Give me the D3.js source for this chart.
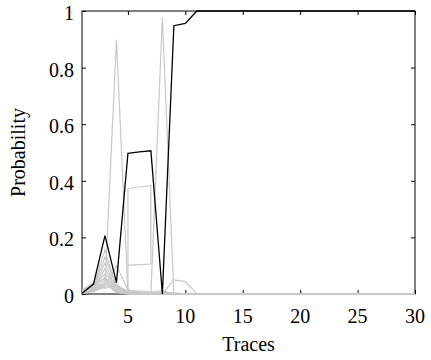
<!DOCTYPE html>
<html>
<head>
<meta charset="utf-8">
<script src="https://cdn.jsdelivr.net/npm/d3@7"></script>
<style>
  html, body { margin: 0; padding: 0; background: #fff; }
  svg { display: block; }
  svg text { font-family: "Liberation Serif", "DejaVu Serif", serif; font-size: 20px; fill: #000; }
</style>
</head>
<body>
<svg id="chart" width="431" height="360"></svg>
<script>
// ---- data ----
const traces = [1,2,3,4,5,6,7,8,9,10,11,12,13,14,15,16,17,18,19,20,21,22,23,24,25,26,27,28,29,30];
const xTicks = [5,10,15,20,25,30];
const yTicks = [0,0.2,0.4,0.6,0.8,1];

// correct key (black)
const correctKey = [0.003,0.035,0.206,0.04,0.497,0.502,0.506,0.0,0.948,0.956,1,1,1,1,1,1,1,1,1,1,1,1,1,1,1,1,1,1,1,1];

// other key candidates (grey)
const cand1  = [0.004,0.02,0.03,0.898,0,0,0,0,0,0,0,0,0,0,0,0,0,0,0,0,0,0,0,0,0,0,0,0,0,0];
const cand2  = [0.004,0.015,0.05,0.01,0.005,0.005,0,0.978,0,0,0,0,0,0,0,0,0,0,0,0,0,0,0,0,0,0,0,0,0,0];
const cand3  = [0.004,0.01,0.04,0.005,0,0,0,0,0.05,0.044,0,0,0,0,0,0,0,0,0,0,0,0,0,0,0,0,0,0,0,0];
const cand4  = [0.006,0.03,0.155,0.02,0,0,0,0,0,0,0,0,0,0,0,0,0,0,0,0,0,0,0,0,0,0,0,0,0,0];
const cand5  = [0.005,0.025,0.13,0.03,0.01,0,0,0,0,0,0,0,0,0,0,0,0,0,0,0,0,0,0,0,0,0,0,0,0,0];
const cand6  = [0.003,0.02,0.11,0.015,0,0,0,0,0,0,0,0,0,0,0,0,0,0,0,0,0,0,0,0,0,0,0,0,0,0];
const cand7  = [0.004,0.018,0.09,0.01,0,0,0,0,0,0,0,0,0,0,0,0,0,0,0,0,0,0,0,0,0,0,0,0,0,0];
const cand8  = [0.005,0.03,0.07,0.03,0.005,0,0,0,0,0,0,0,0,0,0,0,0,0,0,0,0,0,0,0,0,0,0,0,0,0];
const cand9  = [0.01,0.035,0.055,0.02,0,0,0,0,0,0,0,0,0,0,0,0,0,0,0,0,0,0,0,0,0,0,0,0,0,0];
const cand10 = [0.002,0.012,0.04,0.008,0,0,0,0,0,0,0,0,0,0,0,0,0,0,0,0,0,0,0,0,0,0,0,0,0,0];
const cand11 = [0.003,0.008,0.03,0.025,0.012,0.01,0.008,0.012,0,0,0,0,0,0,0,0,0,0,0,0,0,0,0,0,0,0,0,0,0,0];
const cand12 = [0.015,0.04,0.02,0.035,0,0,0,0,0,0,0,0,0,0,0,0,0,0,0,0,0,0,0,0,0,0,0,0,0,0];
const cand13 = [0.002,0.01,0.025,0.1,0.015,0.005,0.004,0.006,0.004,0,0,0,0,0,0,0,0,0,0,0,0,0,0,0,0,0,0,0,0,0];
// candidate drawn as a closed loop between traces 5 and 7
const loopTraces = [1,2,3,4,5,5,6,7,7,6,5];
const loopProbs  = [0.005,0.02,0.06,0.02,0.01,0.373,0.378,0.383,0.106,0.104,0.102];

const greySeries = [cand1,cand2,cand3,cand4,cand5,cand6,cand7,cand8,cand9,cand10,cand11,cand12,cand13];

// ---- layout ----
const svg = d3.select("#chart");
const mLeft = 82, mRight = 415, mTop = 11, mBottom = 294;
const x = d3.scaleLinear().domain([1,30]).range([mLeft,mRight]);
const y = d3.scaleLinear().domain([0,1]).range([mBottom,mTop]);
const fmt = d3.format("~g");
const FONT = "Liberation Serif, DejaVu Serif, serif";

// frame
svg.append("rect").attr("x",mLeft).attr("y",mTop)
  .attr("width",mRight-mLeft).attr("height",mBottom-mTop)
  .attr("fill","none").attr("stroke","#000").attr("stroke-width",1);

// axes ticks (inward), labels drawn separately
const axes = [
  svg.append("g").attr("transform",`translate(0,${mBottom})`)
    .call(d3.axisBottom(x).tickValues(xTicks).tickSize(-4).tickFormat("")),
  svg.append("g").attr("transform",`translate(0,${mTop})`)
    .call(d3.axisTop(x).tickValues(xTicks).tickSize(-4).tickFormat("")),
  svg.append("g").attr("transform",`translate(${mLeft},0)`)
    .call(d3.axisLeft(y).tickValues(yTicks).tickSize(-4).tickFormat("")),
  svg.append("g").attr("transform",`translate(${mRight},0)`)
    .call(d3.axisRight(y).tickValues(yTicks).tickSize(-4).tickFormat(""))
];
axes.forEach(g => {
  g.select(".domain").remove();
  g.selectAll(".tick text").remove();
  g.selectAll(".tick line").attr("stroke","#000");
});

svg.append("g").selectAll("text").data(xTicks).join("text")
  .attr("x", d => x(d)).attr("y", 323)
  .attr("text-anchor","middle")
  .attr("font-family", FONT).attr("font-size", 20)
  .text(d => fmt(d));
svg.append("g").selectAll("text").data(yTicks).join("text")
  .attr("x", mLeft - 8).attr("y", d => y(d) + 9)
  .attr("text-anchor","end")
  .attr("font-family", FONT).attr("font-size", 20)
  .text(d => fmt(d));

// lines
const line = d3.line().x((d,i) => x(traces[i])).y(d => y(d));
svg.append("g").selectAll("path.grey").data(greySeries).join("path")
  .attr("class","grey")
  .attr("d", d => line(d))
  .attr("fill","none").attr("stroke","#c8c8c8").attr("stroke-width",1.2);

const loopLine = d3.line().x((d,i) => x(loopTraces[i])).y(d => y(d));
svg.append("path").attr("d", loopLine(loopProbs))
  .attr("fill","none").attr("stroke","#c8c8c8").attr("stroke-width",1.2);

svg.append("path").attr("d", line(correctKey))
  .attr("fill","none").attr("stroke","#000").attr("stroke-width",1.3);

// labels
svg.append("text").attr("x",(mLeft+mRight)/2).attr("y",351)
  .attr("text-anchor","middle").attr("font-family", FONT).attr("font-size", 20).text("Traces");
svg.append("text")
  .attr("transform",`translate(25,${(mTop+mBottom)/2}) rotate(-90)`)
  .attr("text-anchor","middle").attr("font-family", FONT).attr("font-size", 20).text("Probability");
</script>
</body>
</html>
